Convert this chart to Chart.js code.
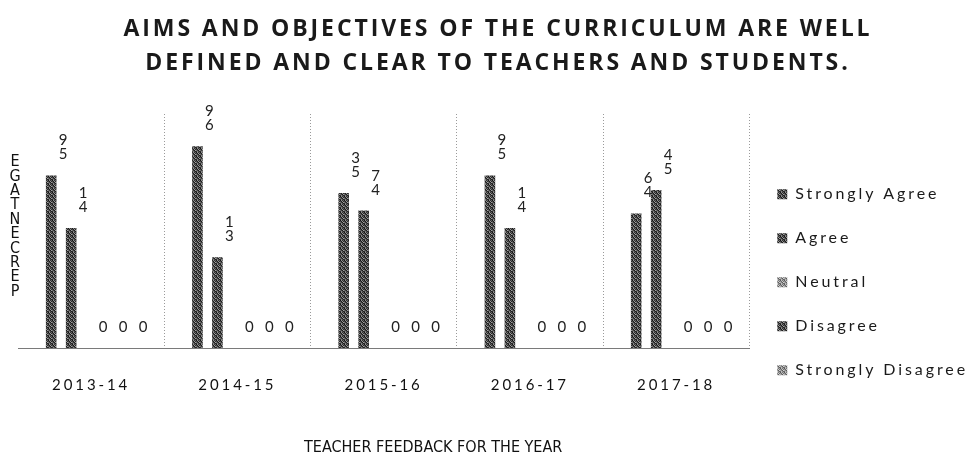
<!DOCTYPE html>
<html>
<head>
<meta charset="utf-8">
<script src="https://cdn.jsdelivr.net/npm/chart.js@4.4.0/dist/chart.umd.min.js"></script>
<style>
html,body{margin:0;padding:0;background:#fff;}
#wrap{width:980px;height:469px;position:relative;}
</style>
</head>
<body>
<div id="wrap"><canvas id="canvas"></canvas></div>
<script>
// datos
var anios = ['2013-14', '2014-15', '2015-16', '2016-17', '2017-18'];
var muyDeAcuerdo = [59, 69, 53, 59, 46];
var deAcuerdo = [41, 31, 47, 41, 54];
var neutral = [0, 0, 0, 0, 0];
var desacuerdo = [0, 0, 0, 0, 0];
var muyDesacuerdo = [0, 0, 0, 0, 0];
var nombres = ['Strongly Agree', 'Agree', 'Neutral', 'Disagree', 'Strongly Disagree'];
var titulo = ['AIMS AND OBJECTIVES OF THE CURRICULUM ARE WELL', 'DEFINED AND CLEAR TO TEACHERS AND STUDENTS.'];
var tituloX = 'TEACHER FEEDBACK FOR THE YEAR';
var tituloY = 'PERCENTAGE';

// trama gris tipo fotocopia
function trama(tonos){
    var c = document.createElement('canvas');
    c.width = 4; c.height = 4;
    var x = c.getContext('2d');
    for (var i = 0; i < 16; i++){
        x.fillStyle = tonos[i % tonos.length];
        x.fillRect(i % 4, Math.floor(i / 4), 1, 1);
    }
    return x.createPattern(c, 'repeat');
}
var oscuro = trama(['#151515','#8c8c8c','#333','#666','#4a4a4a','#1c1c1c','#999','#2a2a2a','#707070','#3c3c3c','#1a1a1a','#a0a0a0','#2e2e2e','#848484','#4a4a4a','#202020']);
var claro = trama(['#555','#bbb','#777','#aaa','#999','#666','#ccc','#707070','#b0b0b0','#888','#5a5a5a','#d0d0d0','#6a6a6a','#c0c0c0','#909090','#606060']);

var espaciado = {
    id: 'espaciado',
    beforeLayout(chart){ chart.ctx.letterSpacing = '2.9px'; },
    beforeDraw(chart){ chart.ctx.letterSpacing = '2.9px'; }
};

var etiquetas = {
    id: 'etiquetas',
    afterDatasetsDraw(chart){
        var ctx = chart.ctx;
        ctx.save();
        ctx.letterSpacing = '0px';
        ctx.font = '15px Lato';
        ctx.fillStyle = '#222';
        ctx.textAlign = 'center';
        ctx.textBaseline = 'alphabetic';
        chart.data.datasets.forEach(function(ds, i){
            chart.getDatasetMeta(i).data.forEach(function(bar, j){
                var txt = String(ds.data[j]);
                for (var k = 0; k < txt.length; k++){
                    ctx.fillText(txt[k], bar.x + 12, bar.y - 16 - k * 14);
                }
            });
        });
        ctx.restore();
    }
};

var titulosEjes = {
    id: 'titulosEjes',
    afterDraw(chart){
        var ctx = chart.ctx;
        var a = chart.chartArea;
        ctx.save();
        ctx.letterSpacing = '0px';
        ctx.fillStyle = '#111';
        ctx.textAlign = 'center';
        ctx.textBaseline = 'middle';
        ctx.font = '16px "Liberation Sans Narrow", "DejaVu Sans Condensed", sans-serif';
        ctx.fillText(tituloX, chart.width * 0.442, a.bottom + 100);
        var letras = tituloY.split('').reverse();
        for (var k = 0; k < letras.length; k++){
            ctx.fillText(letras[k], 15, a.top + 48 + k * 14.4);
        }
        ctx.restore();
    }
};

var ctx = document.getElementById('canvas');
var grafico = new Chart(ctx, {
    type: 'bar',
    data: {
        labels: anios,
        datasets: [
            { label: nombres[0], data: muyDeAcuerdo, backgroundColor: oscuro },
            { label: nombres[1], data: deAcuerdo, backgroundColor: oscuro },
            { label: nombres[2], data: neutral, backgroundColor: claro },
            { label: nombres[3], data: desacuerdo, backgroundColor: oscuro },
            { label: nombres[4], data: muyDesacuerdo, backgroundColor: claro }
        ]
    },
    options: {
        responsive: true,
        maintainAspectRatio: false,
        animation: false,
        categoryPercentage: 0.683,
        barPercentage: 0.53,
        layout: { padding: { left: 18, right: 2, bottom: 47 } },
        scales: {
            x: {
                grid: {
                    drawTicks: false,
                    color: function(c){ return c.index === 0 ? 'rgba(0,0,0,0)' : '#9a9a9a'; },
                    lineWidth: 1
                },
                border: { display: true, color: '#7a7a7a', dash: [1, 2] },
                ticks: { padding: 28, color: '#111', font: { family: 'Lato', size: 15, lineHeight: 1.2 } }
            },
            y: { display: false, min: 0, max: 80 }
        },
        plugins: {
            title: {
                display: true,
                text: titulo,
                color: '#1a1a1a',
                font: { family: 'Open Sans', size: 23, weight: 'bold', lineHeight: 1.5 },
                padding: { top: 12, bottom: 33 }
            },
            legend: {
                position: 'right',
                title: { display: true, text: ' ', font: { size: 12, lineHeight: 1.2 }, padding: { top: 0, bottom: 128 } },
                labels: {
                    boxWidth: 10,
                    boxHeight: 10,
                    padding: 28,
                    color: '#1a1a1a',
                    font: { family: 'Lato', size: 16 }
                }
            },
            tooltip: { enabled: false }
        }
    },
    plugins: [espaciado, etiquetas, titulosEjes]
});
</script>
</body>
</html>
